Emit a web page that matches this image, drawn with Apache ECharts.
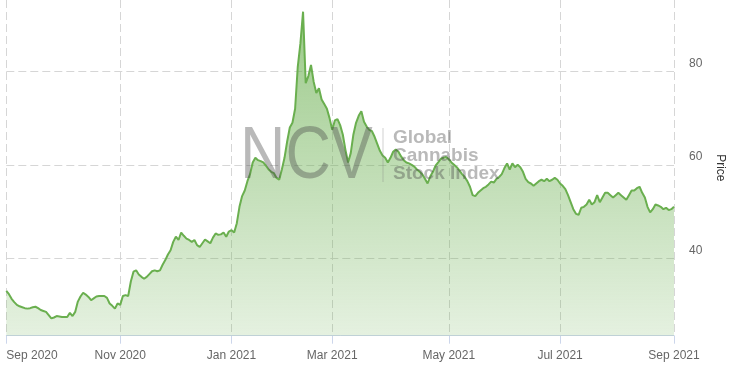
<!DOCTYPE html>
<html><head><meta charset="utf-8">
<script src="https://cdn.jsdelivr.net/npm/echarts@6/dist/echarts.min.js"></script>
<style>html,body{margin:0;padding:0;background:#fff}#c{width:734px;height:365px}</style>
</head><body><div id="c"></div>
<script>
// Trading-day calendar (categories)
const startDate = '2020-09-01';
const endDate = '2021-09-01';
const holidays = ['2020-09-07','2020-11-26','2020-12-25','2021-01-01','2021-01-18','2021-02-15','2021-04-02','2021-05-31','2021-07-05'];
const monthNames = ['Jan','Feb','Mar','Apr','May','Jun','Jul','Aug','Sep','Oct','Nov','Dec'];
const yTicks = [40, 60, 80];

// Index price, one value per trading day
const prices = [
  33.0,32.3,31.3,30.6,30.0,29.7,29.5,29.3,29.2,29.3,29.5,29.6,29.3,28.9,28.7,28.5,27.8,27.1,27.3,27.6,27.5,27.4,27.4,27.4,28.3,27.6,28.5,30.7,31.8,32.6,32.2,31.7,31.0,31.4,31.8,31.9,31.9,31.9,31.5,30.3,29.8,29.2,30.3,
  30.0,31.9,32.1,31.9,35.0,37.1,37.4,36.5,36.0,35.6,36.0,36.6,37.2,37.4,37.2,37.4,38.6,39.6,40.8,41.7,43.5,44.6,43.9,45.5,44.8,44.2,43.9,43.5,43.9,42.8,42.4,43.2,44.0,43.6,43.2,44.4,45.3,45.0,45.1,45.5,44.6,45.7,
  46.0,45.5,47.5,51.0,53.3,54.5,56.5,58.0,60.5,61.5,61.0,60.8,60.5,59.8,59.0,
  58.5,58.2,57.2,56.8,59.0,61.5,65.0,68.0,69.0,72.0,81.0,86.0,92.8,77.5,79.0,81.4,77.8,75.4,76.4,74.0,73.0,72.0,70.0,
  67.5,69.5,69.8,68.5,66.5,63.2,60.5,62.5,66.5,69.0,70.5,71.5,
  69.2,68.2,67.5,67.2,66.0,64.5,63.0,62.0,61.5,60.5,61.5,62.8,
  63.3,62.8,61.8,61.0,60.5,60.3,60.0,59.6,59.0,58.5,58.0,57.0,
  56.0,57.5,58.5,59.8,60.5,61.3,61.5,61.7,
  61.2,60.5,60.0,59.5,58.8,58.0,57.4,56.5,55.3,53.5,53.3,54.0,
  54.5,55.0,55.3,55.8,56.4,56.2,57.0,57.4,58.0,59.3,60.3,59.0,
  60.3,59.5,60.0,59.5,58.5,57.0,56.3,56.0,55.5,56.0,56.5,56.8,
  56.5,57.0,56.5,56.8,57.2,56.8,
  56.0,55.5,54.8,53.5,52.0,50.5,49.5,49.3,50.8,51.0,51.5,52.5,
  51.5,52.0,53.5,52.0,53.0,54.0,54.0,53.5,53.0,53.5,54.0,53.5,
  53.0,52.5,53.5,54.5,54.5,55.0,55.3,54.0,53.0,51.0,49.8,50.5,
  51.5,51.3,51.0,50.5,50.8,50.3,50.5,51.0
];

function pad(n){return (n<10?'0':'')+n;}
const dates = [];
(function(){
  let t = Date.parse(startDate + 'T00:00:00Z');
  const end = Date.parse(endDate + 'T00:00:00Z');
  while (t <= end) {
    const d = new Date(t);
    const s = d.getUTCFullYear() + '-' + pad(d.getUTCMonth()+1) + '-' + pad(d.getUTCDate());
    const wd = d.getUTCDay();
    if (wd !== 0 && wd !== 6 && holidays.indexOf(s) < 0) dates.push(s);
    t += 86400000;
  }
})();

function isMark(i){
  const m = +dates[i].slice(5,7);
  if (i === 0) return true;
  const pm = +dates[i-1].slice(5,7);
  return m !== pm && (m % 2 === 1);
}
function fmt(v){
  return monthNames[+v.slice(5,7)-1] + ' ' + v.slice(0,4);
}

const chart = echarts.init(document.getElementById('c'), null, {renderer:'canvas'});
const gridStyle = {color:'#d6d6d6', width:1, type:[8,4]};
chart.setOption({
  animation:false,
  grid:{left:6.3, right:57.7, top:0, bottom:29.3, containLabel:false},
  xAxis:{
    type:'category', data:dates, boundaryGap:false,
    axisLine:{show:true, lineStyle:{color:'#ccd6eb', width:1}},
    axisTick:{show:true, alignWithLabel:true, length:8, interval:function(i){return isMark(i);}, lineStyle:{color:'#ccd6eb'}},
    axisLabel:{interval:function(i){return isMark(i);}, formatter:fmt, color:'#666', fontSize:12, fontFamily:'Liberation Sans, Arial', margin:14, alignMinLabel:'left', alignMaxLabel:'center', showMinLabel:true, showMaxLabel:true},
    splitLine:{show:true, interval:function(i){return isMark(i);}, lineStyle:gridStyle}
  },
  yAxis:{
    type:'value', position:'right', min:23.4, max:95.3,
    axisLine:{show:false},
    axisTick:{show:false, customValues:yTicks},
    axisLabel:{customValues:yTicks, color:'#666', fontSize:12, fontFamily:'Liberation Sans, Arial', margin:15, verticalAlign:'bottom', padding:[0,0,2,0]},
    splitLine:{show:true, lineStyle:gridStyle},
    name:'Price', nameLocation:'middle', nameRotate:-90, nameGap:40,
    nameTextStyle:{color:'#333', fontSize:12, fontFamily:'Liberation Sans, Arial'}
  },
  series:[{
    type:'line', data:prices, symbol:'none', sampling:'none', smooth:false,
    lineStyle:{color:'#6aaf4f', width:2},
    areaStyle:{color:new echarts.graphic.LinearGradient(0,0,0,1,[
      {offset:0, color:'rgba(106,175,79,0.95)'},
      {offset:1, color:'rgba(106,175,79,0.25)'}
    ])},
    z:2
  }],
  graphic:[
    {type:'text', z:100, scaleX:0.85, x:240, y:158, originX:0, originY:0,
      style:{text:'NCV', fill:'rgba(70,70,70,0.38)', font:'normal 74px "Liberation Sans", Arial', verticalAlign:'middle', align:'left'}},
    {type:'rect', z:100, shape:{x:382.5, y:128, width:1, height:54}, style:{fill:'rgba(120,120,120,0.35)'}},
    {type:'text', z:100, x:393, y:138, style:{text:'Global', fill:'rgba(70,70,70,0.38)', font:'bold 19px "Liberation Sans", Arial', verticalAlign:'middle'}},
    {type:'text', z:100, x:393, y:156, style:{text:'Cannabis', fill:'rgba(70,70,70,0.38)', font:'bold 19px "Liberation Sans", Arial', verticalAlign:'middle'}},
    {type:'text', z:100, x:393, y:173.5, style:{text:'Stock Index', fill:'rgba(70,70,70,0.38)', font:'bold 19px "Liberation Sans", Arial', verticalAlign:'middle'}}
  ]
});
</script>
</body></html>
